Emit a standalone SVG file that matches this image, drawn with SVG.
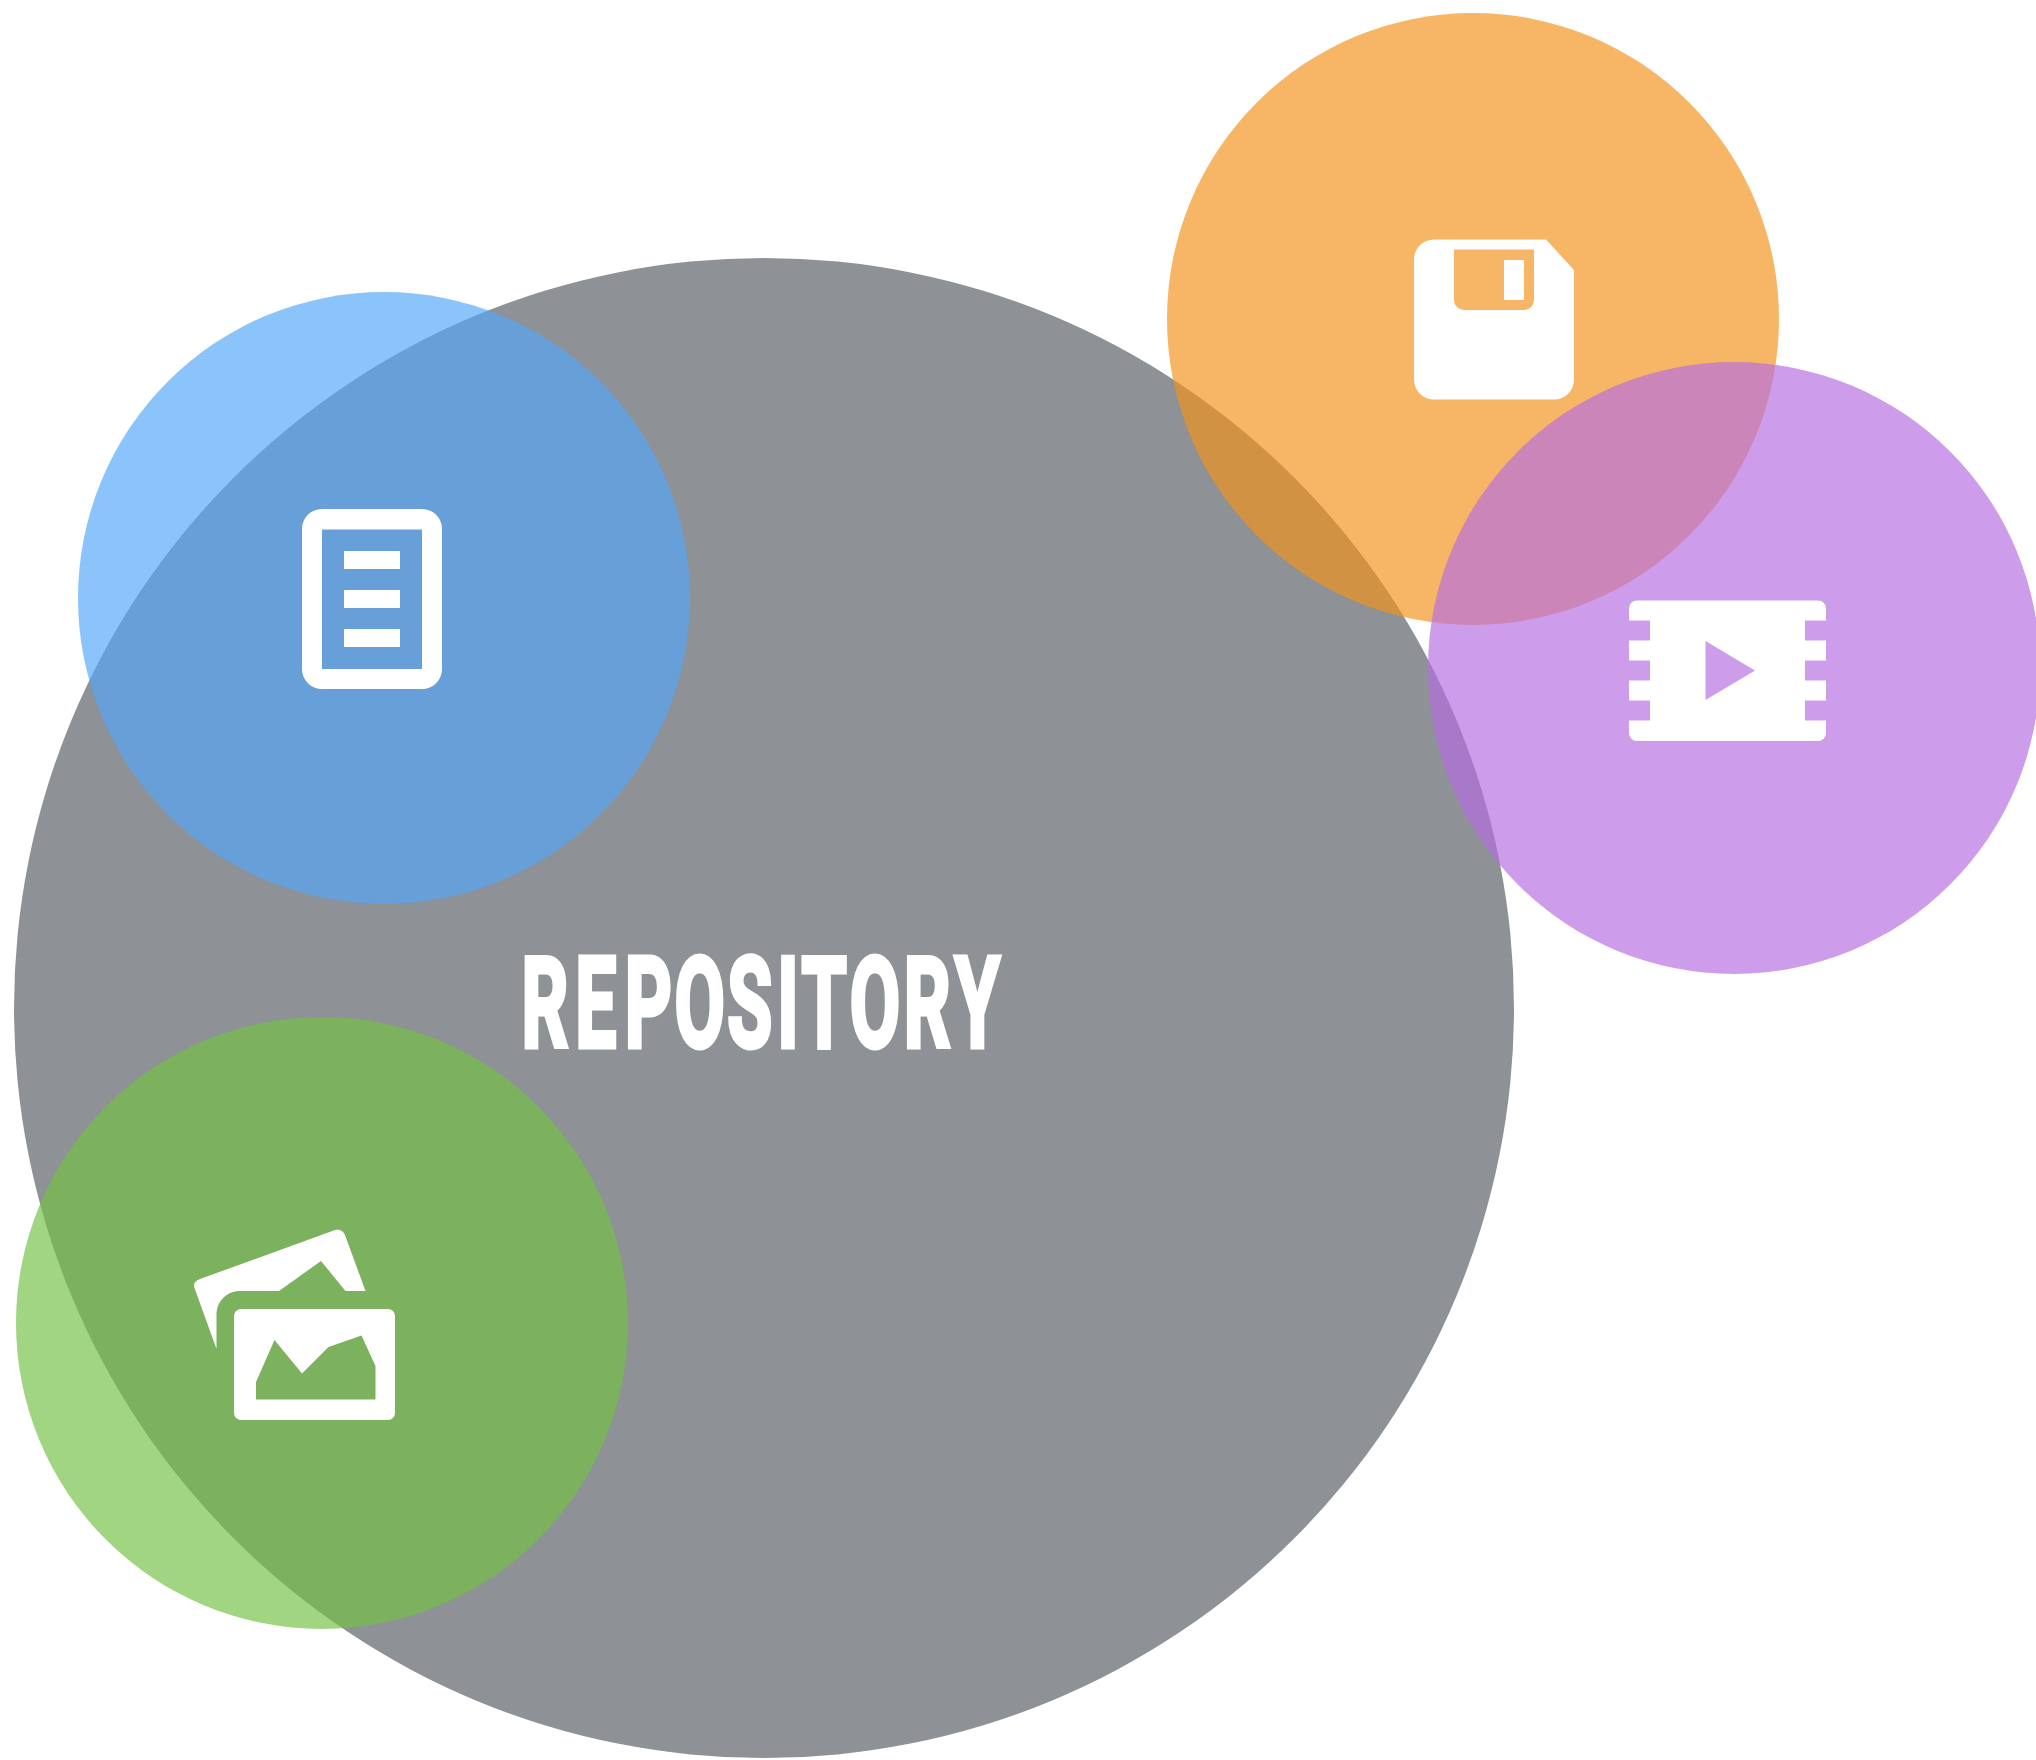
<svg xmlns="http://www.w3.org/2000/svg" width="2036" height="1760" viewBox="0 0 2036 1760">
<style>
.ic{fill:#fff;fill-rule:evenodd}
.lb{font-family:Roboto,"Liberation Sans",Arial,sans-serif;font-weight:700;font-size:126px;fill:#fff;stroke:#fff;stroke-width:5}
</style>
<rect width="2036" height="1760" fill="#fff"/>
<g id="repository">
<circle cx="764" cy="1008" r="750" fill="#8e9195"/>
<text class="lb" transform="translate(0 1046.500) scale(.58 1)" x="899 992 1077 1163 1254 1340 1382 1465 1558 1646" y="0">REPOSITORY</text>
</g>
<g id="documents">
<circle cx="384" cy="598" r="306" fill="#54a7f9" fill-opacity=".68"/>
<path class="ic" d="M322 509H422a20 20 0 0 1 20 20V669a20 20 0 0 1-20 20H322a20 20 0 0 1-20-20V529a20 20 0 0 1 20-20ZM322 529.500V669H422V529.500Z"/>
<path class="ic" d="M344 551H400V569H344ZM344 590H400V608H344ZM344 629H400V647H344Z"/>
</g>
<g id="images">
<circle cx="322" cy="1323" r="306" fill="#73c043" fill-opacity=".67"/>
<path class="ic" d="M216.500 1349V1315C216.500 1301 227 1291 240 1291H279L321 1261L345.500 1291H365.500L345 1235C343 1230 339 1229 335 1230L200 1279C195 1281 193 1284 194.500 1288Z"/>
<path class="ic" d="M241 1309H388a7 7 0 0 1 7 7V1413a7 7 0 0 1-7 7H241a7 7 0 0 1-7-7V1316a7 7 0 0 1 7-7ZM256 1382L274.500 1340L302 1373.500L328.500 1347L361.500 1335.500L375.500 1366V1399.500H256Z"/>
</g>
<g id="saves">
<circle cx="1473" cy="319" r="306" fill="#f3921b" fill-opacity=".67"/>
<path class="ic" d="M1434 239.500H1546L1574 270V379.500a20 20 0 0 1-20 20H1434a20 20 0 0 1-20-20V259.500a20 20 0 0 1 20-20ZM1454 249.500V300a10 10 0 0 0 10 10H1524a10 10 0 0 0 10-10V249.500Z"/>
<rect class="ic" x="1504" y="260" width="20" height="40"/>
</g>
<g id="videos">
<circle cx="1734" cy="668" r="306" fill="#b46de1" fill-opacity=".67"/>
<path class="ic" d="M1637 600.500H1818a8 8 0 0 1 8 8V620.500H1805V640.500H1826V660.500H1805V680.500H1826V700.500H1805V720.500H1826V733a8 8 0 0 1-8 8H1637a8 8 0 0 1-8-8V720.500H1650V700.500H1629V680.500H1650V660.500H1629V640.500H1650V620.500H1629V608.500a8 8 0 0 1 8-8ZM1705.500 641V700L1755 670.500Z"/>
</g>
<g id="connectors"/>
</svg>
